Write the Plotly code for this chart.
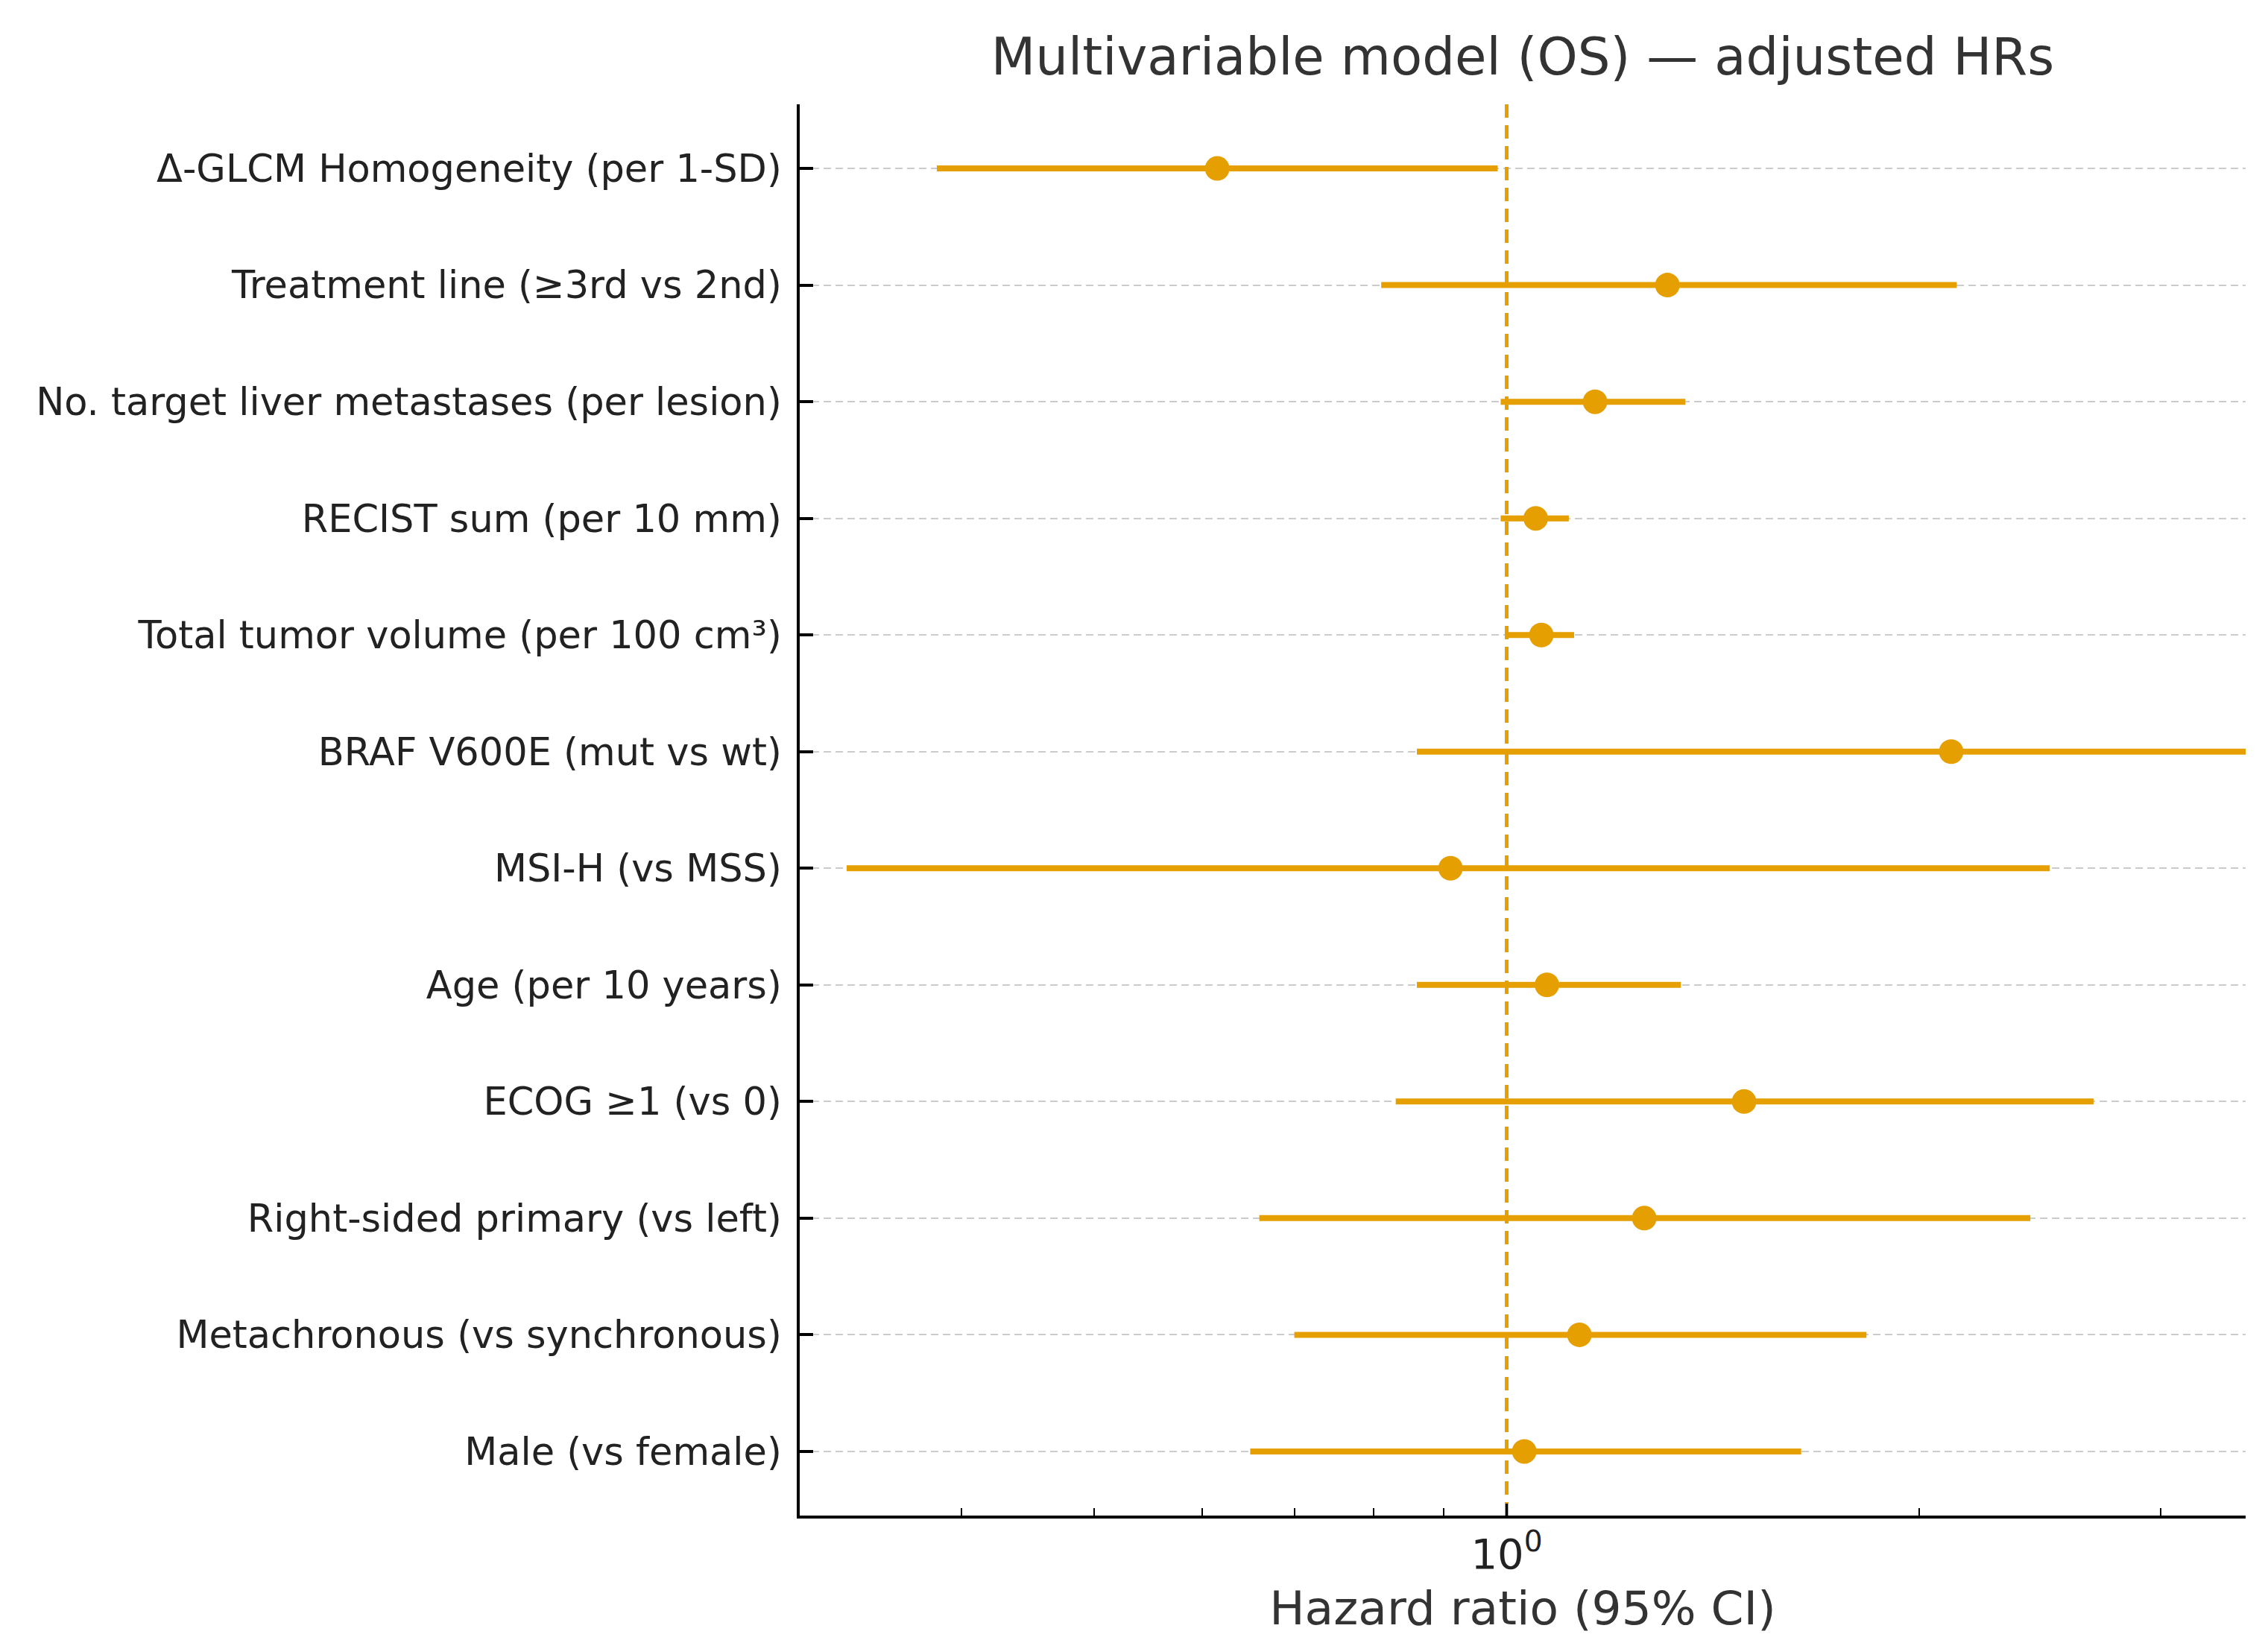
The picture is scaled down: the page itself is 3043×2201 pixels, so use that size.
import math
import plotly.graph_objects as go

# ---- data ----
labels = [
    "Δ-GLCM Homogeneity (per 1-SD)",
    "Treatment line (≥3rd vs 2nd)",
    "No. target liver metastases (per lesion)",
    "RECIST sum (per 10 mm)",
    "Total tumor volume (per 100 cm³)",
    "BRAF V600E (mut vs wt)",
    "MSI-H (vs MSS)",
    "Age (per 10 years)",
    "ECOG ≥1 (vs 0)",
    "Right-sided primary (vs left)",
    "Metachronous (vs synchronous)",
    "Male (vs female)",
]
hr = [0.615, 1.31, 1.16, 1.05, 1.06, 2.11, 0.91, 1.07, 1.49, 1.26, 1.13, 1.03]
ci_low = [0.384, 0.81, 0.99, 0.99, 1.00, 0.86, 0.33, 0.86, 0.83, 0.66, 0.70, 0.65]
ci_high = [0.985, 2.13, 1.35, 1.11, 1.12, 5.2, 2.49, 1.34, 2.68, 2.41, 1.83, 1.64]

ref_hr = 1.0
x_range = [0.305, 3.46]
minor_ticks = [0.4, 0.5, 0.6, 0.7, 0.8, 0.9, 2, 3]

ORANGE = "#E69F00"
FONT = "DejaVu Sans"

n = len(labels)
ypos = [n - 1 - i for i in range(n)]
y_range = [-0.55, n - 1 + 0.55]

# CI segments as one line trace with gaps
xs, ys = [], []
for lo, hi, y in zip(ci_low, ci_high, ypos):
    xs += [lo, hi, None]
    ys += [y, y, None]

fig = go.Figure()

fig.add_trace(go.Scatter(
    x=[ref_hr, ref_hr], y=y_range, mode="lines",
    line=dict(color=ORANGE, width=5, dash="18px,10px"),
    hoverinfo="skip", showlegend=False,
))
fig.add_trace(go.Scatter(
    x=xs, y=ys, mode="lines",
    line=dict(color=ORANGE, width=8),
    hoverinfo="skip", showlegend=False,
))
fig.add_trace(go.Scatter(
    x=hr, y=ypos, mode="markers",
    marker=dict(color=ORANGE, size=33, line=dict(width=0)),
    showlegend=False,
))

fig.update_layout(
    width=3043, height=2201,
    paper_bgcolor="white", plot_bgcolor="white",
    margin=dict(l=1065, r=38, t=132, b=175),
    font=dict(family=FONT, color="#222222"),
    title=dict(
        text="Multivariable model (OS) — adjusted HRs",
        font=dict(family=FONT, size=69, color="#333333"),
        x=0.5, xref="paper", xanchor="center",
        y=1 - 92 / 2201, yref="container", yanchor="bottom",
    ),
)

fig.update_xaxes(
    type="log",
    range=[math.log10(x_range[0]), math.log10(x_range[1])],
    tickmode="array", tickvals=[1], ticktext=["10<sup>0</sup>"],
    ticks="inside", ticklen=16, tickwidth=3, tickcolor="black",
    tickfont=dict(family=FONT, size=56, color="#222222"),
    minor=dict(tickmode="array", tickvals=minor_ticks, ticks="inside",
               ticklen=10, tickwidth=2, tickcolor="black", showgrid=False),
    showgrid=False, zeroline=False,
    showline=True, linecolor="black", linewidth=4,
    title=dict(text="Hazard ratio (95% CI)",
               font=dict(family=FONT, size=63, color="#333333"),
               standoff=20),
)

fig.update_yaxes(
    range=y_range,
    tickmode="array", tickvals=ypos, ticktext=labels,
    ticks="inside", ticklen=18, tickwidth=4, tickcolor="black",
    tickfont=dict(family=FONT, size=51, color="#222222"),
    ticklabelstandoff=10,
    showgrid=True, gridcolor="#cccccc", gridwidth=2, griddash="10px,6px",
    zeroline=False,
    showline=True, linecolor="black", linewidth=4,
)

fig.write_html("out.html")
